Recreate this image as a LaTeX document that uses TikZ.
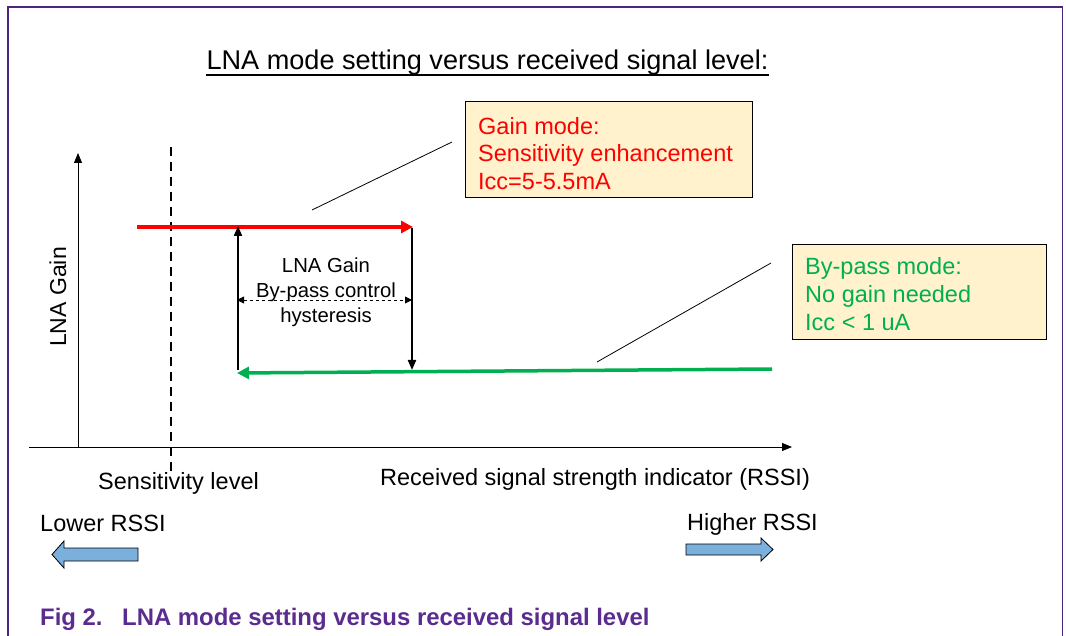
\documentclass[tikz,border=0pt]{standalone}
\usepackage{fontspec}
\setmainfont{Liberation Sans}
\usetikzlibrary{arrows.meta}
\definecolor{framepurple}{HTML}{4B2582}
\definecolor{capurple}{HTML}{5B2C8F}
\definecolor{boxfill}{HTML}{FFF2CC}
\definecolor{gred}{HTML}{FF0000}
\definecolor{ggreen}{HTML}{00B050}
\definecolor{bluearrow}{HTML}{7BAFDC}
\begin{document}
\begin{tikzpicture}[x=1pt,y=-1pt,
  lbl/.style={inner sep=0pt,anchor=base west,font=\fontsize{23.5}{28}\selectfont},
  midlbl/.style={inner sep=0pt,anchor=base,font=\fontsize{20.3}{24}\selectfont},
  infobox/.style={draw=black,line width=1pt,fill=boxfill},
  leader/.style={line width=0.8pt},
  thickarrow/.style={line width=3.5pt,-{Triangle[length=12pt,width=12pt]}},
  vertarrow/.style={line width=2pt,-{Triangle[length=10pt,width=8pt]}},
  axis/.style={line width=1pt,-{Triangle[length=10pt,width=8pt]}},
  blockarrow/.style={draw=black,line width=0.8pt,fill=bluearrow},
  captext/.style={inner sep=0pt,anchor=base west,text=capurple,font=\bfseries\fontsize{23.9}{28}\selectfont}]
\useasboundingbox (0,0) rectangle (1066,636);
\fill[white] (0,0) rectangle (1066,636);
% frame
\draw[framepurple,line width=1.5pt] (8,640) -- (8,7) -- (1062.5,7) -- (1062.5,640);
% title
\node[inner sep=0pt,anchor=base,font=\fontsize{27.1}{32}\selectfont] (title) at (487.5,70) {LNA mode setting versus received signal level:};
\draw[line width=1.3pt] ([yshift=-5pt]title.base west) -- ([yshift=-5pt]title.base east);
% info boxes
\draw[infobox] (465,102) rectangle (752,198);
\node[lbl,text=gred] (g1) at (478,135) {Gain mode:};
\node[lbl,text=gred] (g2) at (478,162) {Sensitivity enhancement};
\node[lbl,text=gred] (g3) at (478,190) {Icc=5-5.5mA};
\draw[infobox] (792,245) rectangle (1046,340);
\node[lbl,text=ggreen] (b1) at (805,275) {By-pass mode:};
\node[lbl,text=ggreen] (b2) at (805,303) {No gain needed};
\node[lbl,text=ggreen] (b3) at (805,331) {Icc < 1 uA};
% leader lines
\coordinate (l1a) at (312,210); \coordinate (l1b) at (452,142);
\draw[leader] (l1a) -- (l1b);
\coordinate (l2a) at (597,362); \coordinate (l2b) at (771,263);
\draw[leader] (l2a) -- (l2b);
% axes
\coordinate (ybot) at (78,447); \coordinate (ytop) at (78,153);
\coordinate (xl) at (29,447); \coordinate (xr) at (792,447);
\draw[axis] (ybot) -- (ytop);
\draw[axis] (xl) -- (xr);
% sensitivity dashed line
\coordinate (s1) at (171,147); \coordinate (s2) at (171,471);
\draw[line width=2pt,dash pattern=on 9pt off 6pt] (s1) -- (s2);
% gain / bypass arrows
\coordinate (r1) at (137,227); \coordinate (r2) at (413,227);
\draw[thickarrow,gred] (r1) -- (r2);
\coordinate (g1s) at (772,369); \coordinate (g1e) at (237,373);
\draw[thickarrow,ggreen] (g1s) -- (g1e);
\coordinate (up1) at (238,370); \coordinate (up2) at (238,226);
\draw[vertarrow] (up1) -- (up2);
\coordinate (dn1) at (412,228); \coordinate (dn2) at (412,370);
\draw[vertarrow] (dn1) -- (dn2);
\coordinate (h1) at (237,300); \coordinate (h2) at (412,300);
\draw[line width=0.8pt,dashed,{Triangle[length=7pt,width=7pt]}-{Triangle[length=7pt,width=7pt]}] (h1) -- (h2);
\node[midlbl] (m1) at (326,273) {LNA Gain};
\node[midlbl] (m2) at (326,298) {By-pass control};
\node[midlbl] (m3) at (326,323) {hysteresis};
% axis labels
\node[inner sep=0pt,rotate=90,font=\fontsize{23}{28}\selectfont] (ylab) at (58,297) {LNA Gain};
\node[lbl] (sens) at (98,489) {Sensitivity level};
\node[lbl] (rssi) at (380,485) {Received signal strength indicator (RSSI)};
\node[lbl] (lower) at (40,531) {Lower RSSI};
\node[lbl] (higher) at (687,530) {Higher RSSI};
% block arrows
\draw[blockarrow] (138,548) -- (64,548) -- (64,541) -- (52,554.5) -- (64,568) -- (64,561) -- (138,561) -- cycle;
\draw[blockarrow] (686,544) -- (761,544) -- (761,538) -- (773,549.5) -- (761,561) -- (761,555) -- (686,555) -- cycle;
% caption
\node[captext] (capnum) at (40,625) {Fig 2.};
\node[captext] (captxt) at (122,625) {LNA mode setting versus received signal level};
\end{tikzpicture}
\end{document}
